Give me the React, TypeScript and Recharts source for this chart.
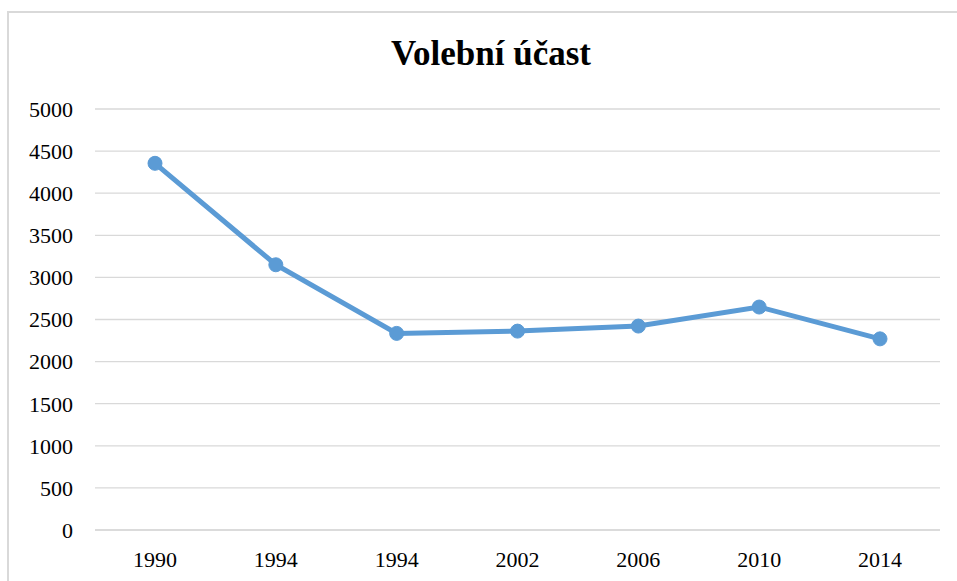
import { LineChart, Line, XAxis, YAxis, CartesianGrid } from "recharts";

const years = ["1990", "1994", "1994", "2002", "2006", "2010", "2014"];
const turnout = [4355, 3150, 2335, 2362, 2422, 2648, 2270];
const yTicks = [0, 500, 1000, 1500, 2000, 2500, 3000, 3500, 4000, 4500, 5000];

const data = years.map((y, i) => ({ year: y, value: turnout[i] }));

const serif = '"Liberation Serif", "Times New Roman", serif';

export default function App() {
  return (
    <div style={{ position: "absolute", left: 0, top: 0, width: 957, height: 581, overflow: "hidden", background: "#fff" }}>
      {/* chart frame, runs off the right and bottom edges */}
      <div style={{ position: "absolute", left: 7, top: 11, width: 980, height: 600, border: "2px solid #d9d9d9" }} />
      <div
        style={{
          position: "absolute",
          left: 291,
          width: 400,
          top: 34,
          textAlign: "center",
          fontFamily: serif,
          fontWeight: "bold",
          fontSize: 35,
          color: "#000",
        }}
      >
        Volební účast
      </div>
      <div style={{ position: "absolute", left: 0, top: 0 }}>
        <LineChart width={957} height={581} data={data} margin={{ top: 109, right: 17, left: 0, bottom: 0 }}>
          <CartesianGrid vertical={false} stroke="#d9d9d9" strokeWidth={1.3} />
          <XAxis
            dataKey="year"
            height={51}
            padding={{ left: 60, right: 60 }}
            tickLine={false}
            tickSize={0}
            tickMargin={21}
            axisLine={{ stroke: "#d9d9d9", strokeWidth: 1.3 }}
            tick={{ fill: "#000", fontSize: 22, fontFamily: serif }}
            allowDuplicatedCategory
          />
          <YAxis
            width={95}
            domain={[0, 5000]}
            ticks={yTicks}
            interval={0}
            tickLine={false}
            axisLine={false}
            tickSize={0}
            tickMargin={22}
            tick={{ fill: "#000", fontSize: 22, fontFamily: serif }}
          />
          <Line
            type="linear"
            dataKey="value"
            stroke="#5b9bd5"
            strokeWidth={5}
            dot={{ r: 7, fill: "#5b9bd5", stroke: "#5b9bd5", strokeWidth: 1 }}
            isAnimationActive={false}
          />
        </LineChart>
      </div>
    </div>
  );
}
